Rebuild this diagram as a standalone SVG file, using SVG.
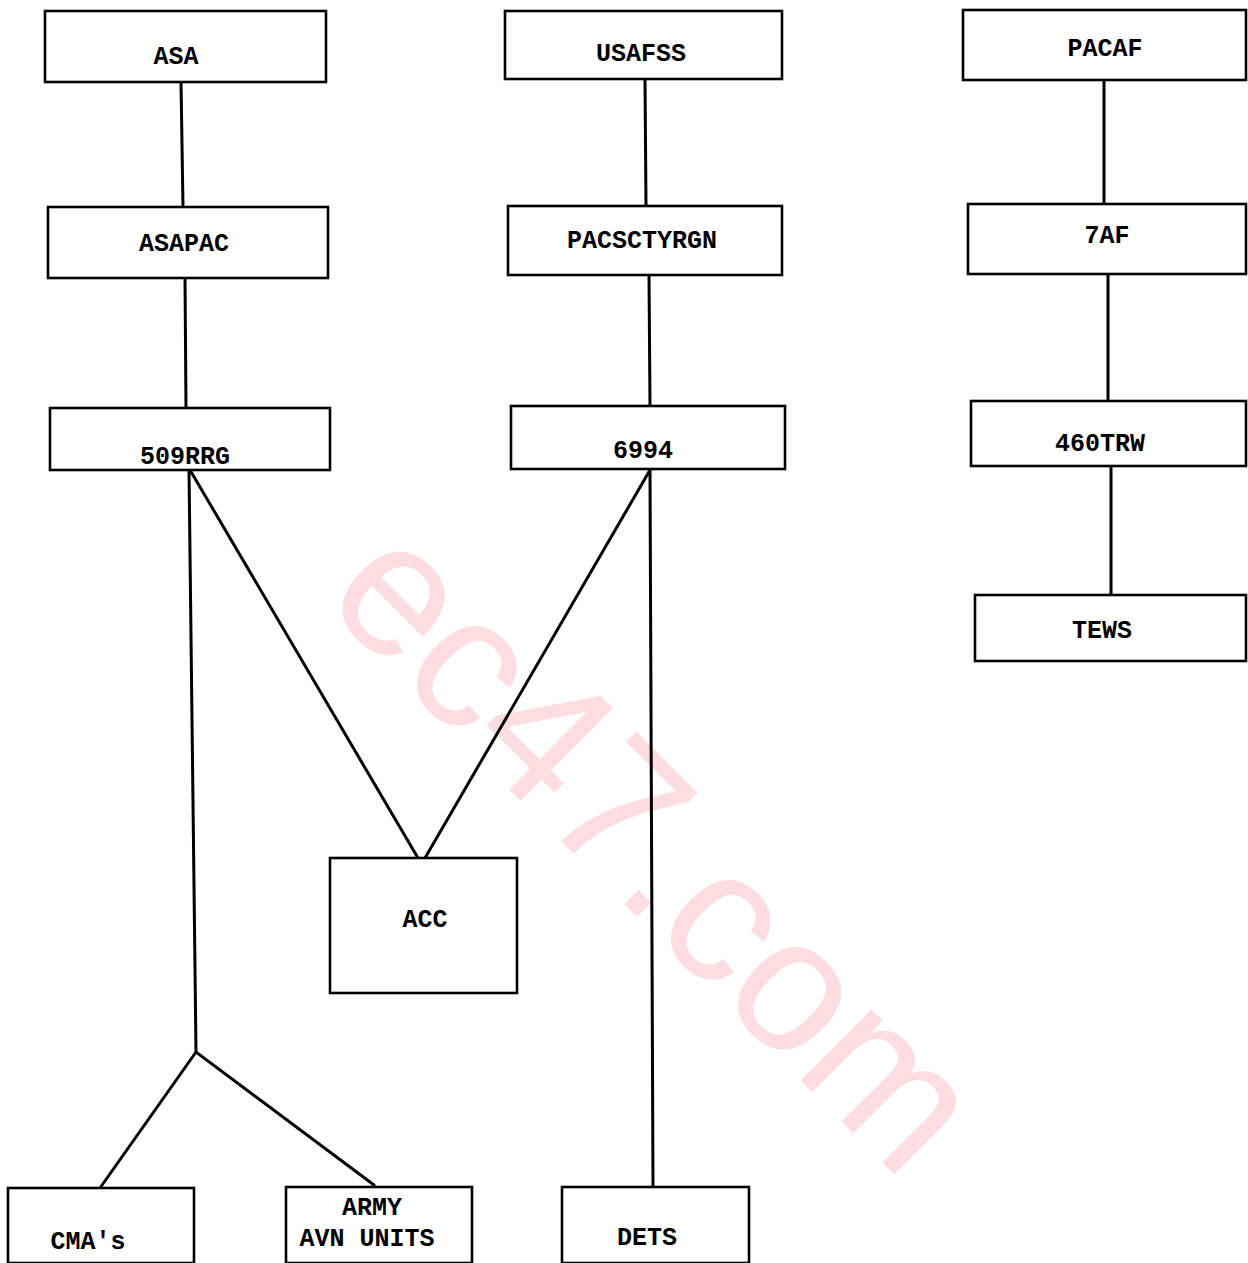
<svg xmlns="http://www.w3.org/2000/svg" width="1248" height="1263" viewBox="0 0 1248 1263">
<style>
.box{fill:#fff;stroke:#000;stroke-width:2.6}
.lbl{font-family:"Liberation Mono","DejaVu Sans Mono",monospace;font-weight:bold;font-size:25px;fill:#000;text-anchor:middle}
.con{stroke:#000;stroke-width:3;fill:none;stroke-linecap:round}
.wm{font-family:"Liberation Sans",Arial,sans-serif;font-size:190px;fill:#fddde0;text-anchor:middle}
</style>
<rect width="1248" height="1263" fill="#fff"/>
<text class="wm" x="612" y="892" transform="rotate(45 612 892)">ec47.com</text>
<g id="connectors">
<line class="con" x1="181" y1="82" x2="183" y2="207"/>
<line class="con" x1="185" y1="278" x2="186" y2="408"/>
<line class="con" x1="645" y1="79" x2="646" y2="206"/>
<line class="con" x1="649" y1="275" x2="650" y2="406"/>
<line class="con" x1="1104" y1="80" x2="1104" y2="204"/>
<line class="con" x1="1108" y1="274" x2="1108" y2="401"/>
<line class="con" x1="1111" y1="466" x2="1111" y2="595"/>
<line class="con" x1="189" y1="470" x2="196" y2="1052"/>
<line class="con" x1="190" y1="470" x2="418" y2="858"/>
<line class="con" x1="650" y1="470" x2="425" y2="858"/>
<line class="con" x1="650" y1="470" x2="653" y2="1187"/>
<polyline class="con" points="100,1188 196,1052 374,1185"/>
</g>
<g id="n-asa"><rect class="box" x="45" y="11" width="281" height="71"/><text class="lbl" x="176" y="64">ASA</text></g>
<g id="n-asapac"><rect class="box" x="48" y="207" width="280" height="71"/><text class="lbl" x="184" y="251">ASAPAC</text></g>
<g id="n-509rrg"><rect class="box" x="50" y="408" width="280" height="62"/><text class="lbl" x="185" y="464">509RRG</text></g>
<g id="n-usafss"><rect class="box" x="505" y="11" width="277" height="68"/><text class="lbl" x="641" y="61">USAFSS</text></g>
<g id="n-pacsctyrgn"><rect class="box" x="508" y="206" width="274" height="69"/><text class="lbl" x="642" y="248">PACSCTYRGN</text></g>
<g id="n-6994"><rect class="box" x="511" y="406" width="274" height="63"/><text class="lbl" x="643" y="458">6994</text></g>
<g id="n-pacaf"><rect class="box" x="963" y="10" width="283" height="70"/><text class="lbl" x="1105" y="56">PACAF</text></g>
<g id="n-7af"><rect class="box" x="968" y="204" width="278" height="70"/><text class="lbl" x="1107" y="243">7AF</text></g>
<g id="n-460trw"><rect class="box" x="971" y="401" width="275" height="65"/><text class="lbl" x="1100" y="451">460TRW</text></g>
<g id="n-tews"><rect class="box" x="975" y="595" width="271" height="66"/><text class="lbl" x="1102" y="638">TEWS</text></g>
<g id="n-acc"><rect class="box" x="330" y="858" width="187" height="135"/><text class="lbl" x="425" y="927">ACC</text></g>
<g id="n-cmas"><rect class="box" x="8" y="1188" width="186" height="75"/><text class="lbl" x="88" y="1249">CMA's</text></g>
<g id="n-army"><rect class="box" x="286" y="1187" width="186" height="76"/><text class="lbl" x="372" y="1215">ARMY</text><text class="lbl" x="367" y="1246">AVN UNITS</text></g>
<g id="n-dets"><rect class="box" x="562" y="1187" width="187" height="76"/><text class="lbl" x="647" y="1245">DETS</text></g>
</svg>
